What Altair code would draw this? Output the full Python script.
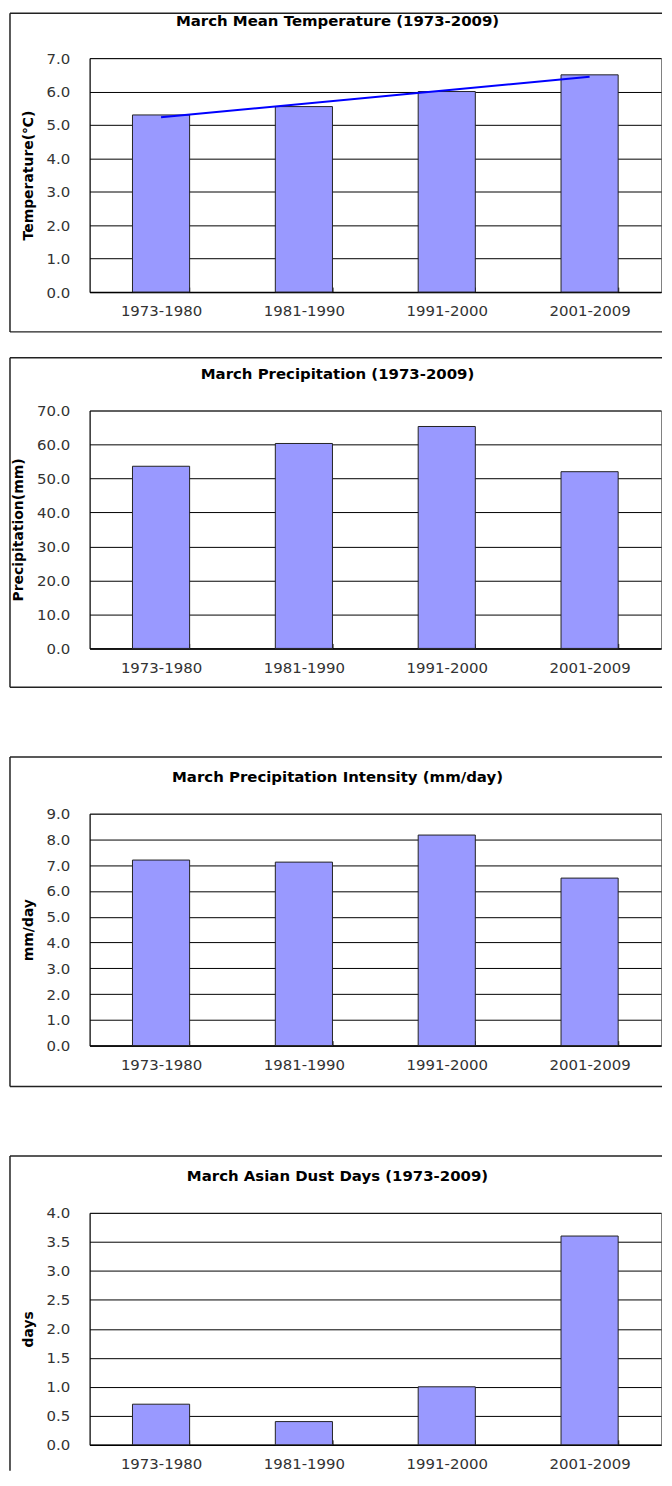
import altair as alt
import pandas as pd

# ---- data ----
periods = ["1973-1980", "1981-1990", "1991-2000", "2001-2009"]
period_idx = [1, 2, 3, 4]
temperature = [5.3, 5.55, 6.0, 6.5]
precipitation = [53.6, 60.3, 65.3, 52.0]
intensity = [7.2, 7.12, 8.17, 6.5]
dust_days = [0.7, 0.4, 1.0, 3.6]

temp_ticks = [0, 1, 2, 3, 4, 5, 6, 7]
precip_ticks = [0, 10, 20, 30, 40, 50, 60, 70]
intensity_ticks = [0, 1, 2, 3, 4, 5, 6, 7, 8, 9]
dust_ticks = [0, 0.5, 1.0, 1.5, 2.0, 2.5, 3.0, 3.5, 4.0]

titles = [
    "March Mean Temperature (1973-2009)",
    "March Precipitation (1973-2009)",
    "March Precipitation Intensity (mm/day)",
    "March Asian Dust Days (1973-2009)",
]
y_titles = ["Temperature(℃)", "Precipitation(mm)", "mm/day", "days"]

FONT = "DejaVu Sans"
W = 574
BOX_L = -80
BOX_R = 575


def panel(values, title, ytitle, ticks, h, top_off, bot_off, trend=False, bottom_rule=True):
    df = pd.DataFrame({"period": periods, "idx": period_idx, "value": values})
    x = alt.X(
        "period:N", sort=periods, title=None,
        scale=alt.Scale(paddingInner=0.6, paddingOuter=0.3),
        axis=alt.Axis(labelAngle=0, labelPadding=12, ticks=False, grid=True,
                      gridDash=[0, h - 5, 5, 3000], gridColor="black", gridWidth=1,
                      tickBand="extent", domainColor="black", domainWidth=1.5,
                      labelFont=FONT, labelFontSize=15, labelColor="#333",
                      labelOverlap=False),
    )
    y = alt.Y(
        "value:Q", title=ytitle,
        scale=alt.Scale(domain=[ticks[0], ticks[-1]], nice=False, zero=True),
        axis=alt.Axis(values=ticks, format=".1f", grid=True, gridColor="black",
                      gridWidth=1, ticks=False, labelPadding=20, domainColor="black",
                      labelFont=FONT, labelFontSize=15, labelColor="#333",
                      labelOverlap=False, labelBound=False, labelFlush=False,
                      titleFont=FONT, titleFontSize=14, titleFontWeight="bold",
                      titleColor="black", titlePadding=11),
    )
    bars = alt.Chart(df).mark_bar(color="#9999FF", stroke="#222", strokeWidth=1).encode(x=x, y=y)
    layers = [bars]
    if trend:
        line = (
            alt.Chart(df)
            .transform_regression("idx", "value")
            .transform_lookup(lookup="idx",
                              from_=alt.LookupData(data=df, key="idx", fields=["period"]))
            .mark_line(color="#0000FF", strokeWidth=2)
            .encode(x=x, y=y)
        )
        layers.append(line)

    one = alt.Data(values=[{"k": 0}])
    top = alt.Chart(one).mark_rule(color="#222", strokeWidth=1.5).encode(
        x=alt.value(BOX_L), x2=alt.value(BOX_R), y=alt.value(-top_off))
    left = alt.Chart(one).mark_rule(color="#222", strokeWidth=1.5).encode(
        x=alt.value(BOX_L), y=alt.value(-top_off), y2=alt.value(h + bot_off))
    layers += [top, left]
    if bottom_rule:
        bottom = alt.Chart(one).mark_rule(color="#222", strokeWidth=1.5).encode(
            x=alt.value(BOX_L), x2=alt.value(BOX_R), y=alt.value(h + bot_off))
        layers.append(bottom)
    ttl = alt.Chart(one).mark_text(font=FONT, fontSize=15, fontWeight="bold",
                                   align="center", baseline="middle", color="black").encode(
        x=alt.value(249), y=alt.value(-37), text=alt.value(title))
    layers.append(ttl)
    return alt.layer(*layers).properties(width=W, height=h)


p1 = panel(temperature, titles[0], y_titles[0], temp_ticks, 235, 45, 40, trend=True)
p2 = panel(precipitation, titles[1], y_titles[1], precip_ticks, 239, 53, 39)
p3 = panel(intensity, titles[2], y_titles[2], intensity_ticks, 233, 57, 41)
p4 = panel(dust_days, titles[3], y_titles[3], dust_ticks, 233, 57, 26, bottom_rule=False)

chart = (
    alt.vconcat(alt.vconcat(p1, p2, spacing=22), p3, p4, spacing=66)
    .properties(padding=0, background="white")
    .configure_view(stroke="#808080", strokeWidth=1)
)

chart.save("out.html", embed_options={"renderer": "svg", "actions": False})
